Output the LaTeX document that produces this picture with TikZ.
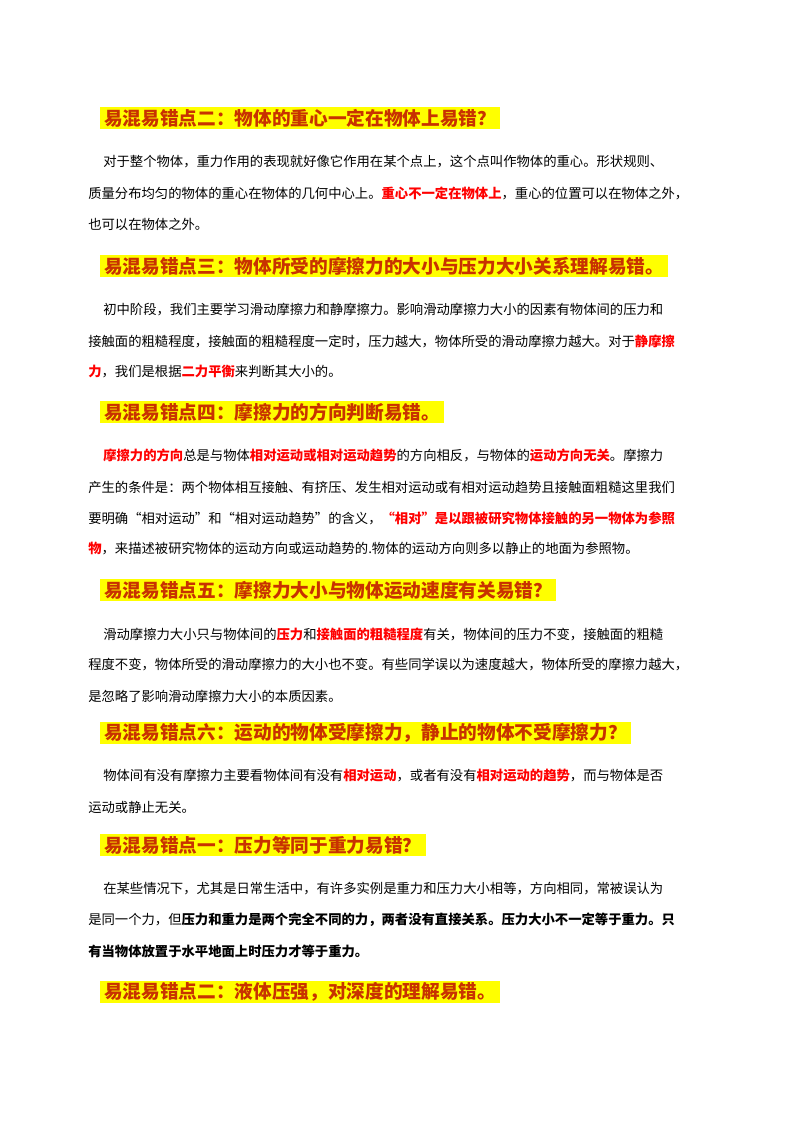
\documentclass[tikz,border=0pt]{standalone}
\usepackage{fontspec}
\setmainfont{Noto Sans CJK SC}
\XeTeXlinebreaklocale "zh"
\XeTeXlinebreakskip=0pt plus 3pt minus 0.3pt
\definecolor{hdred}{RGB}{200,50,0}
\definecolor{hl}{RGB}{255,255,0}
\newcommand\R[1]{\textcolor{red}{\bfseries #1}}
\newcommand\B[1]{{\bfseries #1}}
\tikzset{
  hd/.style={anchor=west,fill=hl,inner xsep=3pt,inner ysep=0pt,minimum height=17pt,font=\fontsize{14pt}{15pt}\selectfont\bfseries,text=hdred},
  fl/.style={anchor=west,inner sep=0pt,text width=468pt,font=\fontsize{10pt}{12pt}\selectfont},
  il/.style={anchor=west,inner sep=0pt,text width=462pt,font=\fontsize{10pt}{12pt}\selectfont},
  ll/.style={anchor=west,inner sep=0pt,font=\fontsize{10pt}{12pt}\selectfont}
}
\newcommand\J{\parfillskip=0pt\relax\hfuzz=20pt\emergencystretch=10pt }
\begin{document}
\begin{tikzpicture}[x=0.75pt,y=-0.75pt]
\useasboundingbox (0,0) rectangle (800,1132);
\node[hd] (h1) at (100,118) {易混易错点二：物体的重心一定在物体上易错？};
\node[il] (p11) at (103,162) {\J 对于整个物体，重力作用的表现就好像它作用在某个点上，这个点叫作物体的重心。形状规则、};
\node[fl] (p12) at (88,193) {\J 质量分布均匀的物体的重心在物体的几何中心上。\R{重心不一定在物体上}，重心的位置可以在物体之外，};
\node[ll] (p13) at (88,224) {也可以在物体之外。};
\node[hd] (h2) at (100,266) {易混易错点三：物体所受的摩擦力的大小与压力大小关系理解易错。};
\node[il] (p21) at (103,310) {\J 初中阶段，我们主要学习滑动摩擦力和静摩擦力。影响滑动摩擦力大小的因素有物体间的压力和};
\node[fl] (p22) at (88,341) {\J 接触面的粗糙程度，接触面的粗糙程度一定时，压力越大，物体所受的滑动摩擦力越大。对于\R{静摩擦}};
\node[ll] (p23) at (88,372) {\R{力}，我们是根据\R{二力平衡}来判断其大小的。};
\node[hd] (h3) at (100,412) {易混易错点四：摩擦力的方向判断易错。};
\node[il] (p31) at (103,455) {\J \R{摩擦力的方向}总是与物体\R{相对运动或相对运动趋势}的方向相反，与物体的\R{运动方向无关}。摩擦力};
\node[fl] (p32) at (88,487) {\J 产生的条件是：两个物体相互接触、有挤压、发生相对运动或有相对运动趋势且接触面粗糙这里我们};
\node[fl] (p33) at (88,518) {\J 要明确“相对运动”和“相对运动趋势”的含义，\R{“相对”是以跟被研究物体接触的另一物体为参照}};
\node[ll] (p34) at (88,549) {\R{物}，来描述被研究物体的运动方向或运动趋势的.物体的运动方向则多以静止的地面为参照物。};
\node[hd] (h4) at (100,590) {易混易错点五：摩擦力大小与物体运动速度有关易错？};
\node[il] (p41) at (103,634) {\J 滑动摩擦力大小只与物体间的\R{压力}和\R{接触面的粗糙程度}有关，物体间的压力不变，接触面的粗糙};
\node[fl] (p42) at (88,665) {\J 程度不变，物体所受的滑动摩擦力的大小也不变。有些同学误以为速度越大，物体所受的摩擦力越大，};
\node[ll] (p43) at (88,696) {是忽略了影响滑动摩擦力大小的本质因素。};
\node[hd] (h5) at (100,733) {易混易错点六：运动的物体受摩擦力，静止的物体不受摩擦力？};
\node[il] (p51) at (103,776) {\J 物体间有没有摩擦力主要看物体间有没有\R{相对运动}，或者有没有\R{相对运动的趋势}，而与物体是否};
\node[ll] (p52) at (88,807) {运动或静止无关。};
\node[hd] (h6) at (100,845) {易混易错点一：压力等同于重力易错？};
\node[il] (p61) at (103,889) {\J 在某些情况下，尤其是日常生活中，有许多实例是重力和压力大小相等，方向相同，常被误认为};
\node[fl] (p62) at (88,920) {\J 是同一个力，但\B{压力和重力是两个完全不同的力，两者没有直接关系。压力大小不一定等于重力。只}};
\node[ll] (p63) at (88,951) {\B{有当物体放置于水平地面上时压力才等于重力。}};
\node[hd] (h7) at (100,992) {易混易错点二：液体压强，对深度的理解易错。};
\end{tikzpicture}
\end{document}
